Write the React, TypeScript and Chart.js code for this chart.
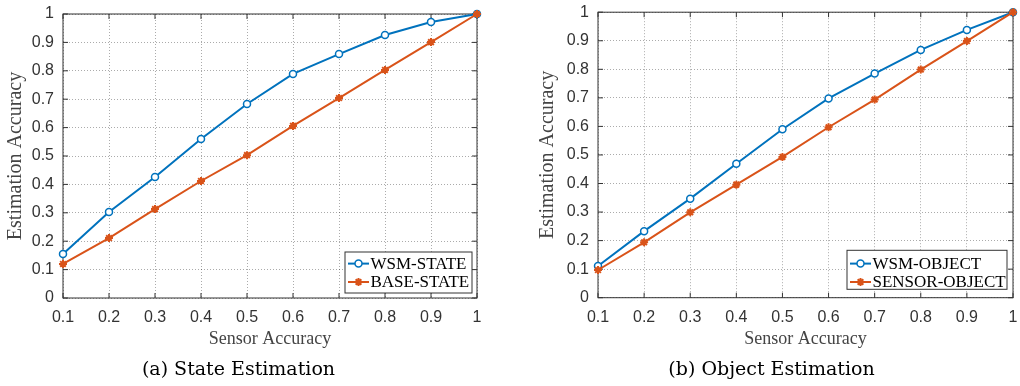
import React, { useEffect, useRef } from "react";
import { Chart, registerables } from "chart.js";

Chart.register(...registerables);

// ---- data ----
const xValues = [0.1, 0.2, 0.3, 0.4, 0.5, 0.6, 0.7, 0.8, 0.9, 1.0];
const xTickLabels = ["0.1", "0.2", "0.3", "0.4", "0.5", "0.6", "0.7", "0.8", "0.9", "1"];
const yTickValues = [0, 0.1, 0.2, 0.3, 0.4, 0.5, 0.6, 0.7, 0.8, 0.9, 1.0];
const yTickLabels = ["0", "0.1", "0.2", "0.3", "0.4", "0.5", "0.6", "0.7", "0.8", "0.9", "1"];

const stateWsm = [0.155, 0.303, 0.426, 0.56, 0.683, 0.789, 0.859, 0.926, 0.972, 1.0];
const stateBase = [0.12, 0.211, 0.313, 0.412, 0.503, 0.606, 0.704, 0.803, 0.901, 1.0];
const objectWsm = [0.111, 0.233, 0.347, 0.469, 0.59, 0.698, 0.785, 0.868, 0.938, 1.0];
const objectSensor = [0.097, 0.194, 0.299, 0.396, 0.493, 0.597, 0.694, 0.799, 0.899, 1.0];

const stateSeriesNames = ["WSM-STATE", "BASE-STATE"];
const objectSeriesNames = ["WSM-OBJECT", "SENSOR-OBJECT"];
const captions = ["(a) State Estimation", "(b) Object Estimation"];
const xAxisTitle = "Sensor Accuracy";
const yAxisTitle = "Estimation Accuracy";

const BLUE = "#0072BD";
const ORANGE = "#D95319";

// ---- plugins ----
const axesBoxPlugin = {
  id: "axesBox",
  beforeDatasetsDraw(chart: any) {
    const { ctx, chartArea: a, scales } = chart;
    ctx.save();
    ctx.strokeStyle = "#333";
    ctx.lineWidth = 1;
    ctx.strokeRect(a.left, a.top, a.right - a.left, a.bottom - a.top);
    ctx.beginPath();
    const L = 5;
    scales.x.ticks.forEach((t: any) => {
      const p = scales.x.getPixelForValue(t.value);
      ctx.moveTo(p, a.bottom);
      ctx.lineTo(p, a.bottom - L);
      ctx.moveTo(p, a.top);
      ctx.lineTo(p, a.top + L);
    });
    scales.y.ticks.forEach((t: any) => {
      const p = scales.y.getPixelForValue(t.value);
      ctx.moveTo(a.left, p);
      ctx.lineTo(a.left + L, p);
      ctx.moveTo(a.right, p);
      ctx.lineTo(a.right - L, p);
    });
    ctx.stroke();
    ctx.restore();
  },
};

const boxLegendPlugin = {
  id: "boxLegend",
  afterDraw(chart: any, _args: any, opts: any) {
    const { ctx, chartArea: a } = chart;
    const x0 = a.right - opts.right - opts.width;
    const y0 = a.bottom - opts.bottom - opts.height;
    ctx.save();
    ctx.fillStyle = "#fff";
    ctx.fillRect(x0, y0, opts.width, opts.height);
    ctx.strokeStyle = "#333";
    ctx.lineWidth = 1;
    ctx.strokeRect(x0, y0, opts.width, opts.height);
    chart.data.datasets.forEach((ds: any, i: number) => {
      const cy = y0 + opts.rowTop + i * opts.rowGap;
      ctx.strokeStyle = ds.borderColor;
      ctx.lineWidth = ds.borderWidth;
      ctx.beginPath();
      ctx.moveTo(x0 + 3, cy);
      ctx.lineTo(x0 + 24, cy);
      ctx.stroke();
      const mx = x0 + 13.5;
      ctx.lineWidth = ds.pointBorderWidth;
      if (ds.pointStyle === "circle") {
        ctx.beginPath();
        ctx.arc(mx, cy, ds.pointRadius, 0, Math.PI * 2);
        ctx.fillStyle = ds.pointBackgroundColor;
        ctx.fill();
        ctx.stroke();
      } else {
        const r = ds.pointRadius;
        ctx.beginPath();
        ctx.moveTo(mx - r, cy);
        ctx.lineTo(mx + r, cy);
        ctx.moveTo(mx, cy - r);
        ctx.lineTo(mx, cy + r);
        const d = r * Math.SQRT1_2;
        ctx.moveTo(mx - d, cy - d);
        ctx.lineTo(mx + d, cy + d);
        ctx.moveTo(mx - d, cy + d);
        ctx.lineTo(mx + d, cy - d);
        ctx.stroke();
      }
      ctx.fillStyle = "#000";
      ctx.font = "17px 'Liberation Serif', serif";
      ctx.textBaseline = "middle";
      ctx.textAlign = "left";
      ctx.fillText(ds.label, x0 + 25.5, cy + 0.5);
    });
    ctx.restore();
  },
};

type PanelProps = {
  names: string[];
  first: number[];
  second: number[];
  caption: string;
  yAxisWidth: number;
  yTitlePad: number;
  padding: { left: number; top: number; right: number; bottom: number };
  xAxisHeight: number;
  legend: { right: number; bottom: number; width: number; height: number; rowTop: number; rowGap: number };
  width: number;
  height: number;
};

function Panel(p: PanelProps) {
  const ref = useRef<HTMLCanvasElement | null>(null);
  useEffect(() => {
    if (!ref.current) return;
    const xTickFont = { family: "'Liberation Sans', Arial, sans-serif", size: 16, lineHeight: 1.2 };
    const yTickFont = { family: "'Liberation Sans', Arial, sans-serif", size: 16, lineHeight: 0.4 };
    const chart = new Chart(ref.current, {
      type: "line",
      data: {
        datasets: [
          {
            label: p.names[0],
            data: xValues.map((x, i) => ({ x, y: p.first[i] })),
            borderColor: BLUE,
            backgroundColor: BLUE,
            borderWidth: 2,
            pointStyle: "circle",
            pointRadius: 3.5,
            pointBorderWidth: 1.5,
            pointBorderColor: BLUE,
            pointBackgroundColor: "#fff",
            clip: false,
            order: 2,
          } as any,
          {
            label: p.names[1],
            data: xValues.map((x, i) => ({ x, y: p.second[i] })),
            borderColor: ORANGE,
            backgroundColor: ORANGE,
            borderWidth: 2,
            pointStyle: "star",
            pointRadius: 4,
            pointBorderWidth: 2,
            pointBorderColor: ORANGE,
            pointBackgroundColor: ORANGE,
            clip: false,
            order: 1,
          } as any,
        ],
      },
      options: {
        animation: false,
        responsive: false,
        events: [],
        layout: { padding: p.padding },
        plugins: {
          legend: { display: false },
          tooltip: { enabled: false },
          title: {
            display: true,
            position: "bottom",
            text: p.caption,
            color: "#000",
            font: { family: "'DejaVu Serif', serif", size: 19, weight: "normal", lineHeight: 1.2 },
            padding: { top: 0, bottom: 5 },
          },
          boxLegend: p.legend,
        } as any,
        scales: {
          x: {
            type: "linear",
            min: 0.1,
            max: 1,
            afterBuildTicks: (s: any) => {
              s.ticks = xValues.map((v) => ({ value: v }));
            },
            afterFit: (s: any) => {
              s.height = p.xAxisHeight;
            },
            grid: { color: "rgba(0,0,0,0.33)", lineWidth: 1, drawTicks: false },
            border: { display: false, dash: [1, 2] },
            ticks: {
              autoSkip: false,
              maxRotation: 0,
              padding: 10,
              color: "#333",
              font: xTickFont,
              callback: (_v: any, i: number) => xTickLabels[i],
            },
            title: {
              display: true,
              text: xAxisTitle,
              color: "#444",
              font: { family: "'Liberation Serif', serif", size: 18, lineHeight: 1.2 },
              padding: { top: 0, bottom: 8 },
            },
          },
          y: {
            type: "linear",
            min: 0,
            max: 1,
            afterBuildTicks: (s: any) => {
              s.ticks = yTickValues.map((v) => ({ value: v }));
            },
            afterFit: (s: any) => {
              s.width = p.yAxisWidth;
            },
            grid: { color: "rgba(0,0,0,0.33)", lineWidth: 1, drawTicks: false },
            border: { display: false, dash: [1, 2] },
            ticks: {
              autoSkip: false,
              padding: 9,
              color: "#333",
              font: yTickFont,
              callback: (_v: any, i: number) => yTickLabels[i],
            },
            title: {
              display: true,
              text: yAxisTitle,
              color: "#444",
              font: { family: "'Liberation Serif', serif", size: 20, lineHeight: 1.2 },
              padding: { top: p.yTitlePad, bottom: 0 },
            },
          },
        },
      } as any,
      plugins: [axesBoxPlugin, boxLegendPlugin],
    });
    return () => chart.destroy();
  }, []);
  return <canvas ref={ref} width={p.width} height={p.height} style={{ display: "block" }} />;
}

export default function App() {
  return (
    <div
      style={{
        position: "fixed",
        left: 0,
        top: 0,
        width: 1020,
        height: 386,
        overflow: "hidden",
        background: "#fff",
      }}
    >
      <div style={{ position: "absolute", left: 0, top: 0 }}>
        <Panel
          names={stateSeriesNames}
          first={stateWsm}
          second={stateBase}
          caption={captions[0]}
          yAxisWidth={63}
          yTitlePad={4}
          padding={{ left: 0, top: 14, right: 49, bottom: 0 }}
          xAxisHeight={60.2}
          legend={{ right: 5, bottom: 5, width: 127, height: 41, rowTop: 11.6, rowGap: 18.4 }}
          width={526}
          height={386}
        />
      </div>
      <div style={{ position: "absolute", left: 530, top: 0 }}>
        <Panel
          names={objectSeriesNames}
          first={objectWsm}
          second={objectSensor}
          caption={captions[1]}
          yAxisWidth={68}
          yTitlePad={5.5}
          padding={{ left: 0, top: 9.5, right: 57, bottom: 0 }}
          xAxisHeight={60.5}
          legend={{ right: 6, bottom: 8.4, width: 160, height: 39, rowTop: 13.3, rowGap: 18.4 }}
          width={540}
          height={386}
        />
      </div>
    </div>
  );
}
